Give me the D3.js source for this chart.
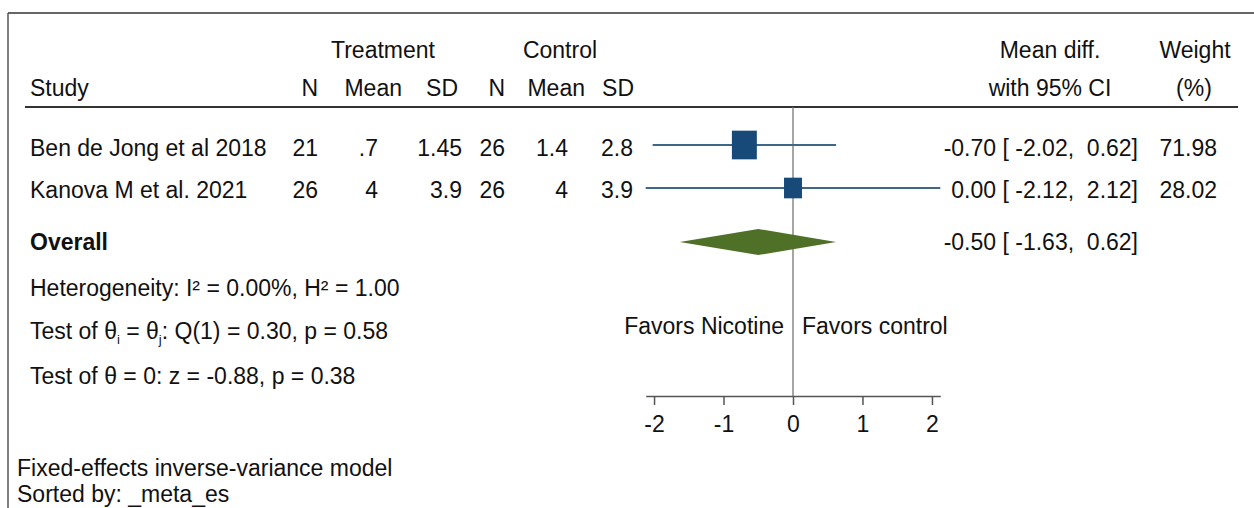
<!DOCTYPE html>
<html>
<head>
<meta charset="utf-8">
<script src="https://cdn.jsdelivr.net/npm/d3@7/dist/d3.min.js"></script>
<style>
  html, body { margin: 0; padding: 0; background: #fff; }
  svg text { font-family: "Liberation Sans", Arial, Helvetica, sans-serif; font-size: 23px; fill: #111; white-space: pre; }
</style>
</head>
<body>
<svg id="chart" width="1254" height="508"></svg>
<script>
// ---- data ----
const studies = ["Ben de Jong et al 2018", "Kanova M et al. 2021"];
const treatN = ["21", "26"];
const treatMean = [".7", "4"];
const treatSD = ["1.45", "3.9"];
const ctrlN = ["26", "26"];
const ctrlMean = ["1.4", "4"];
const ctrlSD = ["2.8", "3.9"];
const effect = [-0.70, 0.00];
const ciLow = [-2.02, -2.12];
const ciHigh = [0.62, 2.12];
const weight = [71.98, 28.02];
const overallEffect = -0.50;
const overallLow = -1.63;
const overallHigh = 0.62;
const xTicks = [-2, -1, 0, 1, 2];
const statLines = [
  "Heterogeneity: I\u00B2 = 0.00%, H\u00B2 = 1.00",
  "Test of \u03B8 = 0: z = -0.88, p = 0.38"
];
const footLines = ["Fixed-effects inverse-variance model", "Sorted by: _meta_es"];

// ---- drawing ----
const svg = d3.select("#chart");
const fmt = d3.format(".2f");
const f2 = v => fmt(v).replace("\u2212", "-");

// frame
svg.append("line").attr("x1", 8).attr("x2", 1254).attr("y1", 13).attr("y2", 13)
  .attr("stroke", "#333").attr("stroke-width", 1.5);
svg.append("line").attr("x1", 8).attr("x2", 8).attr("y1", 13).attr("y2", 508)
  .attr("stroke", "#555").attr("stroke-width", 1.5);

// scales
const x = d3.scaleLinear().domain([-2.12, 2.12]).range([645.7, 940.3]);
const y = d3.scalePoint().domain(studies).range([145, 188]);
const overallY = 242;
const side = d3.scaleLinear().domain([0, 100]).range([13.5, 29.4]);

// header
function txt(xp, yp, s, anchor, extra) {
  const t = svg.append("text").attr("x", xp).attr("y", yp).attr("text-anchor", anchor || "start").text(s);
  if (extra) extra(t);
  return t;
}
txt(383, 58, "Treatment", "middle");
txt(560, 58, "Control", "middle");
txt(1050, 58, "Mean diff.", "middle");
txt(1195, 58, "Weight", "middle");
txt(30, 96, "Study");
txt(318, 96, "N", "end");
txt(402, 96, "Mean", "end");
txt(458, 96, "SD", "end");
txt(505, 96, "N", "end");
txt(585, 96, "Mean", "end");
txt(634, 96, "SD", "end");
txt(1050, 96, "with 95% CI", "middle");
txt(1194, 96, "(%)", "middle");

svg.append("line").attr("x1", 25).attr("x2", 1238).attr("y1", 107).attr("y2", 107)
  .attr("stroke", "#333").attr("stroke-width", 2);

// zero line
svg.append("line").attr("x1", x(0)).attr("x2", x(0)).attr("y1", 107).attr("y2", 396)
  .attr("stroke", "#777").attr("stroke-width", 1.3);

// study rows
studies.forEach((s, i) => {
  const yb = y(s) + 10 + (i === 0 ? 1 : 0);
  txt(30, yb, s);
  txt(318, yb, treatN[i], "end");
  txt(378, yb, treatMean[i], "end");
  txt(462, yb, treatSD[i], "end");
  txt(505, yb, ctrlN[i], "end");
  txt(568, yb, ctrlMean[i], "end");
  txt(633, yb, ctrlSD[i], "end");
  txt(1138, yb, `${f2(effect[i])} [ ${f2(ciLow[i])},  ${f2(ciHigh[i])}]`, "end");
  txt(1217, yb, f2(weight[i]), "end");
});

// CI lines
svg.append("g").selectAll("line").data(studies).join("line")
  .attr("x1", (d, i) => x(ciLow[i])).attr("x2", (d, i) => x(ciHigh[i]))
  .attr("y1", d => y(d)).attr("y2", d => y(d))
  .attr("stroke", "#3f6788").attr("stroke-width", 2.2);

// markers
svg.append("g").selectAll("rect").data(studies).join("rect")
  .attr("x", (d, i) => x(effect[i]) - side(weight[i]) / 2)
  .attr("y", (d, i) => y(d) - side(weight[i]) * 1.15 / 2)
  .attr("width", (d, i) => side(weight[i]))
  .attr("height", (d, i) => side(weight[i]) * 1.15)
  .attr("fill", "#174a79");

// overall
txt(30, overallY + 8, "Overall", "start", t => t.attr("font-weight", "bold"));
txt(1138, overallY + 8, `${f2(overallEffect)} [ ${f2(overallLow)},  ${f2(overallHigh)}]`, "end");
svg.append("path")
  .attr("d", d3.line()([
    [x(overallLow), overallY], [x(overallEffect), overallY - 13],
    [x(overallHigh), overallY], [x(overallEffect), overallY + 13]
  ]) + "Z")
  .attr("fill", "#4f7027");

// heterogeneity stats
txt(30, 296, statLines[0]);
const t2 = svg.append("text").attr("x", 30).attr("y", 339);
t2.append("tspan").text("Test of \u03B8");
t2.append("tspan").attr("font-size", "13px").attr("dy", 5).text("i");
t2.append("tspan").attr("dy", -5).text(" = \u03B8");
t2.append("tspan").attr("font-size", "13px").attr("dy", 5).text("j");
t2.append("tspan").attr("dy", -5).text(": Q(1) = 0.30, p = 0.58");
txt(30, 384, statLines[1]);

// favors labels
txt(784, 334, "Favors Nicotine", "end");
txt(802, 334, "Favors control", "start");

// axis
const axis = svg.append("g").attr("transform", "translate(0,396)")
  .call(d3.axisBottom(x).tickValues(xTicks).tickSize(9).tickSizeOuter(0).tickPadding(11)
    .tickFormat(d => String(d)));
axis.select(".domain").attr("stroke", "#555").attr("stroke-width", 1.5);
axis.selectAll(".tick line").attr("stroke", "#555").attr("stroke-width", 1.5);
axis.selectAll(".tick text").attr("font-size", "23px").attr("font-family", "Liberation Sans, Arial, sans-serif").attr("fill", "#111");

// footnotes
txt(17, 476, footLines[0]);
txt(17, 502, footLines[1]);
</script>
</body>
</html>
